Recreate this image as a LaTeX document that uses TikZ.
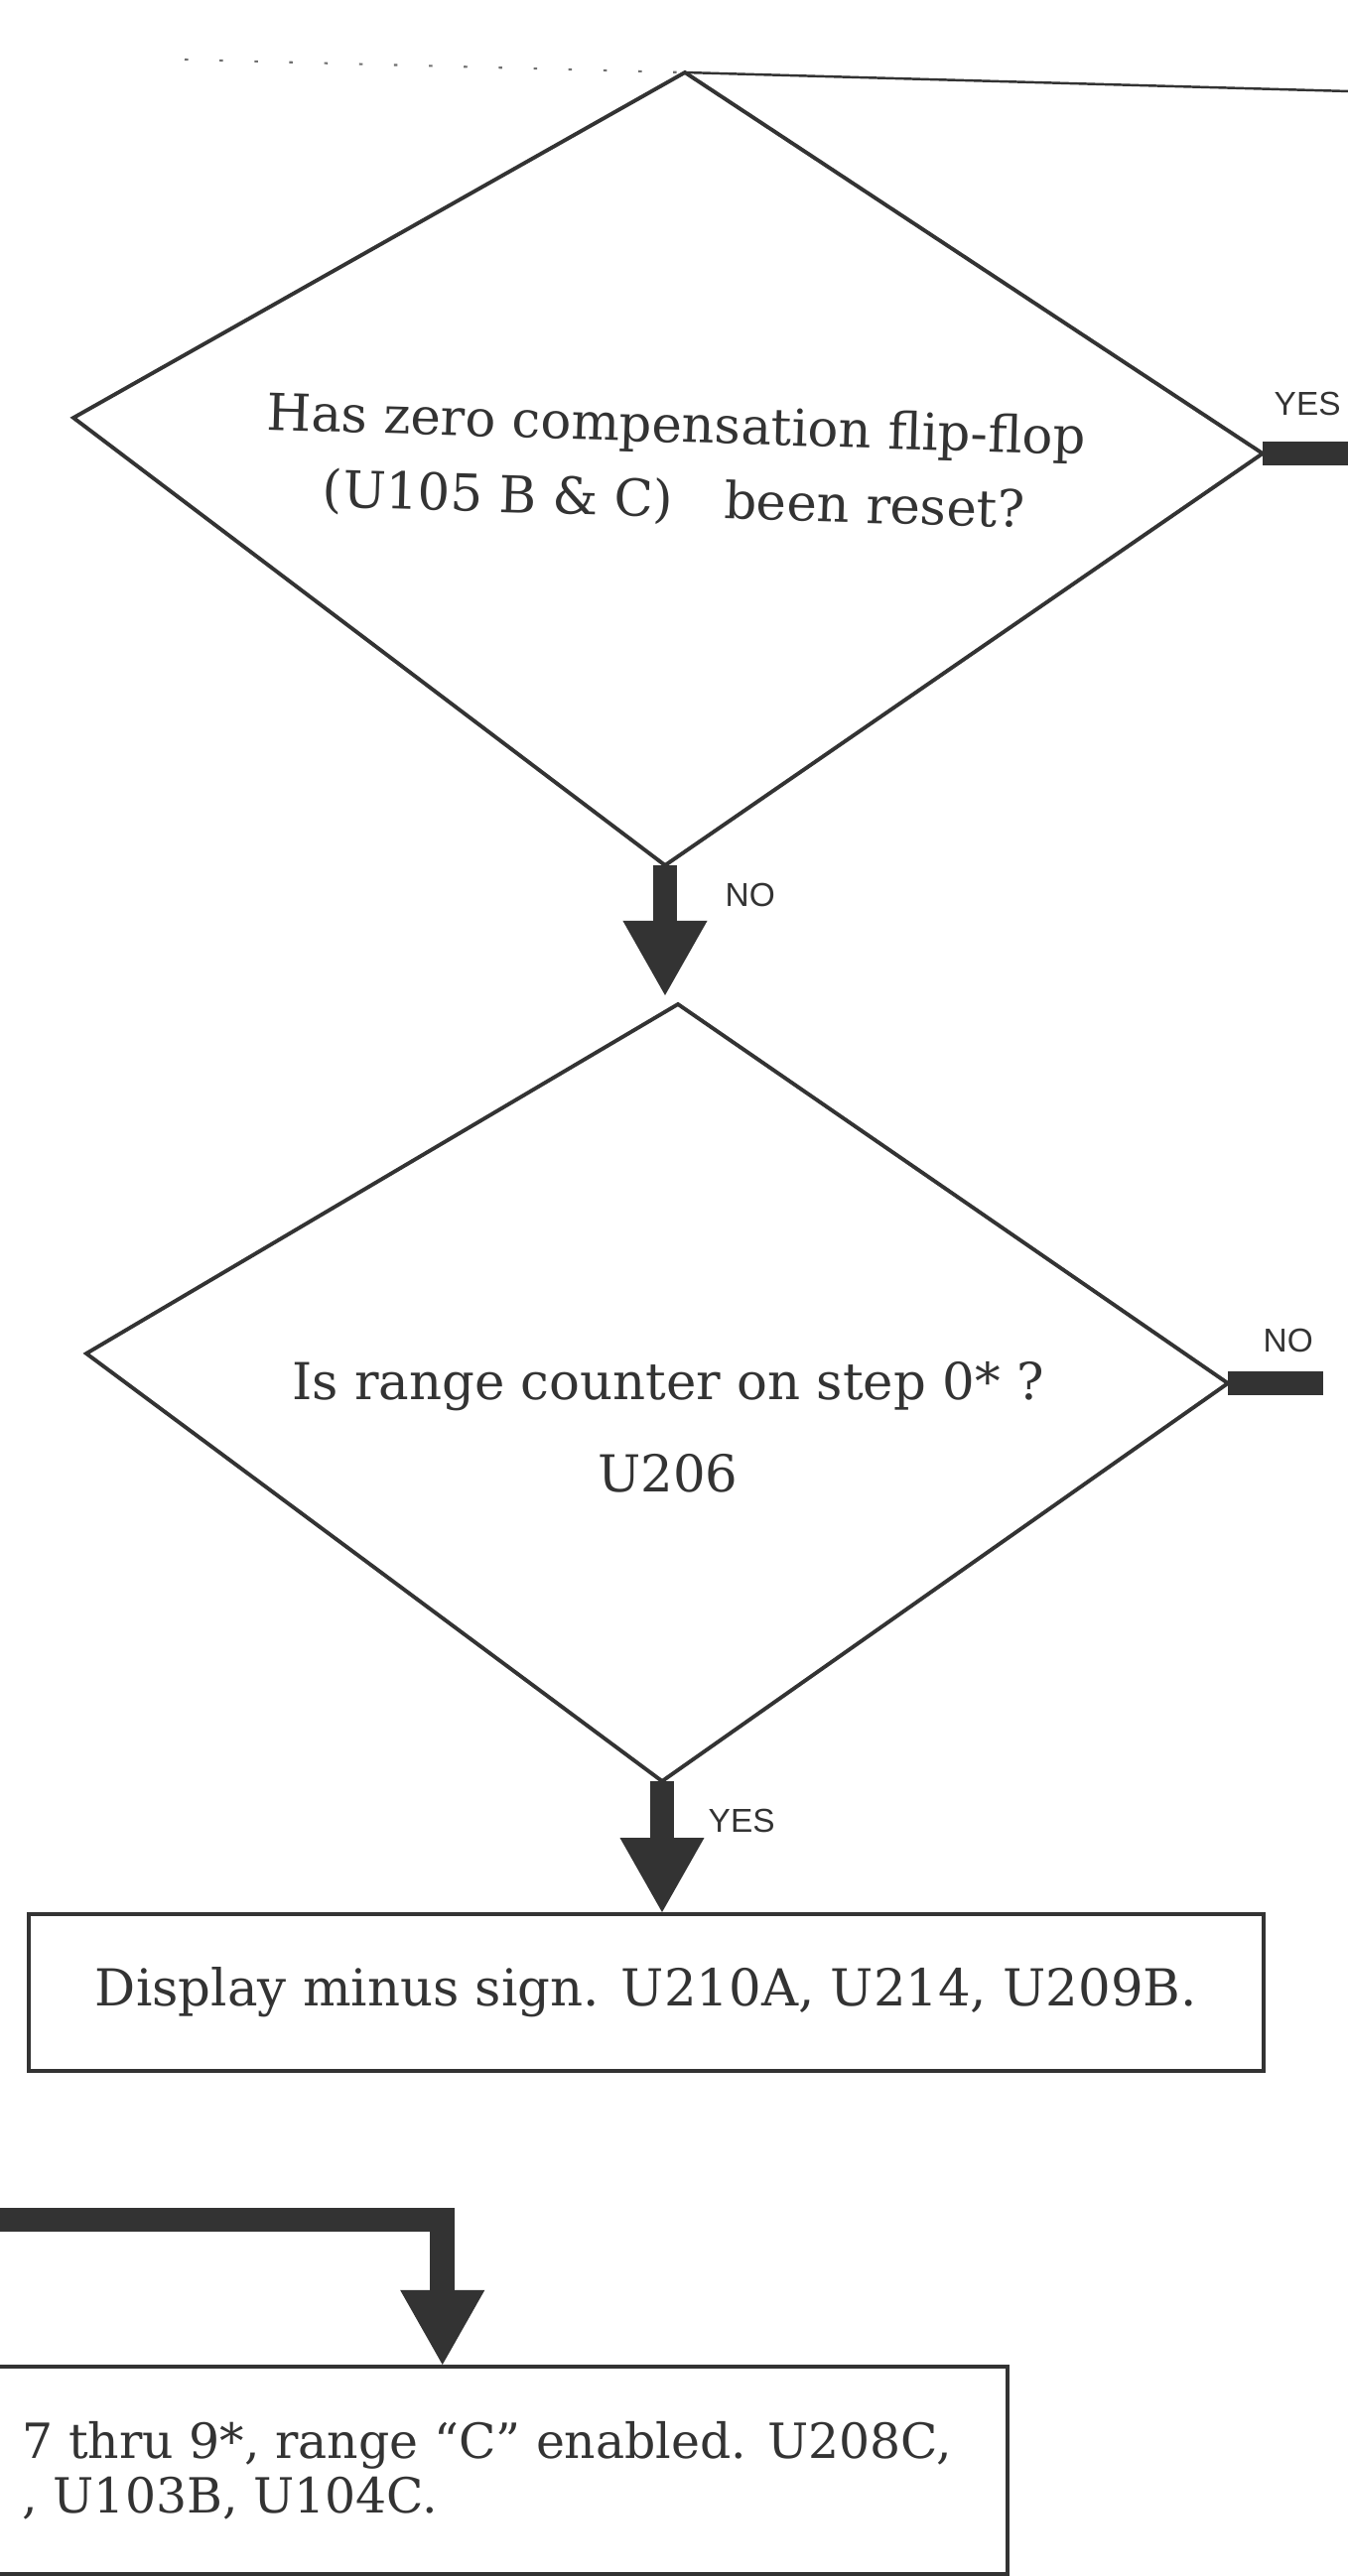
\documentclass[tikz,border=0pt]{standalone}
\usepackage{fontspec}
\usepackage{xcolor}
\usetikzlibrary{arrows.meta, positioning, calc}
\setmainfont{DejaVu Serif}
\newfontfamily\labelfont{Liberation Sans}
\definecolor{InkGray}{HTML}{333333}

\begin{document}
\begin{tikzpicture}[
        x=0.01cm, y=-0.01cm,
        outline/.style={draw=InkGray, line width=1.1pt, line join=miter},
        flow/.style={draw=InkGray, line width=7pt, line join=miter},
        flowarrow/.style={flow, -{Triangle[width=0.85cm, length=0.75cm, line width'=0pt]}},
        answer/.style={font=\labelfont\fontsize{9.5}{11}\selectfont, text=InkGray, inner sep=0pt},
        question/.style={font=\fontsize{14.6}{21.5}\selectfont, align=center, text=InkGray},
        procbox/.style={rectangle, draw=InkGray, line width=1.1pt, align=center, font=\fontsize{14.6}{19}\selectfont, text=InkGray},
        boxtext/.style={font=\fontsize{13.9}{15.6}\selectfont, align=left, text=InkGray, inner sep=0pt}
    ]
    \clip (0,0) rectangle (1358,2596);

    \coordinate (edgeL) at (186,60);
    \coordinate (edgeR) at (1370,92.3);
    \coordinate (zcT) at (690,73);
    \coordinate (zcL) at (74,421);
    \coordinate (zcR) at (1272,457);
    \coordinate (zcB) at (670,872);
    \coordinate (rcT) at (683,1012);
    \coordinate (rcL) at (87,1364);
    \coordinate (rcR) at (1237,1394);
    \coordinate (rcB) at (667,1795);
    \coordinate (yesout) at (1370,457);
    \coordinate (noout) at (1333,1394);
    \coordinate (fromleft) at (-30,2237);

    \draw[InkGray!70, line width=0.6pt, dash pattern=on 1pt off 9pt] (edgeL) -- (zcT);
    \draw[InkGray, line width=0.7pt] (zcT) -- (edgeR);

    \draw[outline] (zcT) -- (zcR) -- (zcB) -- (zcL) -- cycle;
    \node[question, rotate=-1.7] (zcQ) at (680,468) {Has zero compensation flip-flop\\(U105 B \& C)\quad been reset?};
    \node[answer, above right=0.37cm and 0.11cm of zcR] (zcYes) {YES};
    \node[answer, below right=0.17cm and 0.6cm of zcB] (zcNo) {NO};

    \draw[outline] (rcT) -- (rcR) -- (rcB) -- (rcL) -- cycle;
    \node[question, font=\fontsize{14.6}{26.4}\selectfont] (rcQ) at (673,1438) {Is range counter on step 0* ?\\U206};
    \node[answer, above right=0.3cm and 0.35cm of rcR] (rcNo) {NO};
    \node[answer, below right=0.27cm and 0.46cm of rcB] (rcYes) {YES};

    \node[procbox, minimum width=12.43cm, minimum height=1.58cm] (minusbox) at (651,2008) {Display minus sign. U210A, U214, U209B.};
    \node[procbox, anchor=north east, minimum width=11.38cm, minimum height=2.09cm] (rangebox) at (1017,2383) {};
    \node[boxtext, anchor=north west] (rangetext) at (22,2440) {7 thru 9*, range ``C'' enabled. U208C,\\, U103B, U104C.};

    \draw[flow] (zcR) -- (yesout);
    \draw[flowarrow, shorten >=0.09cm] (zcB) -- (zcB |- rcT);
    \draw[flow] (rcR) -- (noout);
    \draw[flowarrow] (rcB) -- (rcB |- minusbox.north);
    \draw[flowarrow] (fromleft) -| (rangebox.north);
\end{tikzpicture}
\end{document}
